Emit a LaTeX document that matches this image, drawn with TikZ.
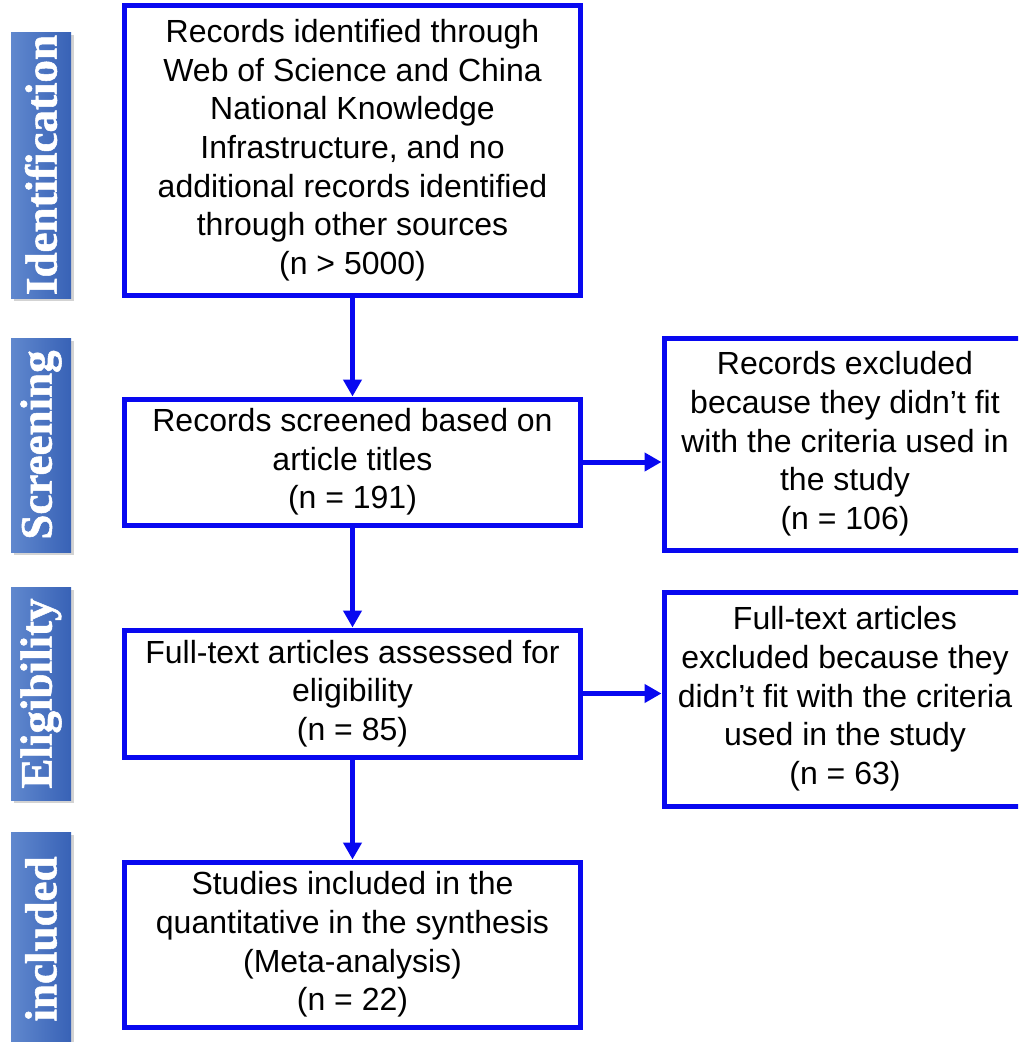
\documentclass[tikz,border=0pt]{standalone}
\usepackage{fontspec}
\setmainfont{Liberation Sans}
\newfontfamily\sidefont{Liberation Serif}[BoldFeatures={FakeBold=1.2}]
\usetikzlibrary{arrows.meta}
\usetikzlibrary{positioning}
\usetikzlibrary{shadows}
\definecolor{boxblue}{RGB}{8,8,240}
\definecolor{stagetop}{RGB}{56,98,182}
\definecolor{stagebot}{RGB}{96,136,206}
\tikzset{
  flowbox/.style={draw=boxblue, line width=5pt, fill=white, align=center, inner sep=0pt,
    minimum width=456pt, font=\fontsize{32}{38.7}\selectfont},
  sidebox/.style={flowbox, minimum width=362pt},
  stage/.style={rotate=90, minimum height=60pt, inner sep=0pt, left color=stagebot, right color=stagetop,
    drop shadow={shadow xshift=2.5pt, shadow yshift=-2.5pt, opacity=0.35}, text=white,
    font=\sidefont\bfseries\fontsize{45}{50}\selectfont},
  flowline/.style={draw=boxblue, line width=5pt}
}
\begin{document}
\begin{tikzpicture}[line cap=round,>={Triangle[length=17pt,width=18pt]},x=1pt,y=-1pt]
\useasboundingbox (0,0) rectangle (1018,1042);
\clip (0,0) rectangle (1018,1042);
\node[stage, minimum width=266pt] (sident) at (41,165) {Identification};
\node[stage, minimum width=214pt] (sscreen) at (41,445) {Screening};
\node[stage, minimum width=213pt] (selig) at (41,693.5) {Eligibility};
\node[stage, minimum width=214pt] (sincl) at (41,939) {included};
\node[flowbox, minimum height=289.5pt] (ident) at (352.5,150.25) {Records identified through\\Web of Science and China\\National Knowledge\\Infrastructure, and no\\additional records identified\\through other sources\\(n > 5000)};
\node[flowbox, minimum height=126pt] (screen) at (352.5,462) {Records screened based on\\article titles\\(n = 191)};
\node[flowbox, minimum height=127pt] (elig) at (352.5,693.5) {Full-text articles assessed for\\eligibility\\(n = 85)};
\node[flowbox, minimum height=165pt] (incl) at (352.5,944.5) {Studies included in the\\quantitative in the synthesis\\(Meta-analysis)\\(n = 22)};
\node[sidebox, minimum height=212pt] (excl) at (845,444) {Records excluded\\because they didn’t fit\\with the criteria used in\\the study\\(n = 106)};
\node[sidebox, minimum height=214pt] (exclft) at (845,699) {Full-text articles\\excluded because they\\didn’t fit with the criteria\\used in the study\\(n = 63)};
\draw[flowline,->] (ident) -- (screen);
\draw[flowline,->] (screen) -- (elig);
\draw[flowline,->] (elig) -- (incl);
\draw[flowline,->] (screen.east) -- (screen.east -| excl.west);
\draw[flowline,->] (elig.east) -- (elig.east -| exclft.west);
\end{tikzpicture}
\end{document}
